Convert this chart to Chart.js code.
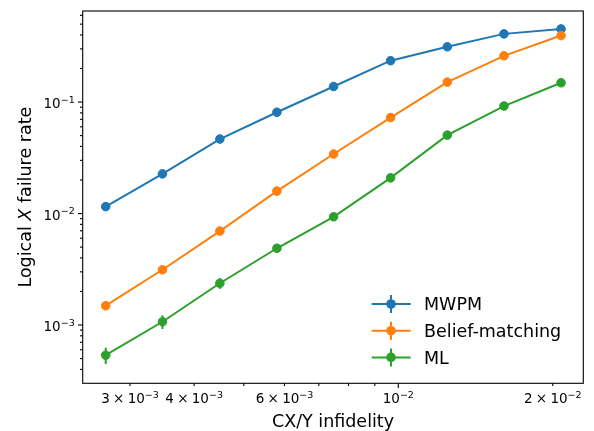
<!DOCTYPE html>
<html>
<head>
<meta charset="utf-8">
<script src="https://cdn.jsdelivr.net/npm/chart.js@4.4.0/dist/chart.umd.min.js"></script>
<style>
  html, body { margin: 0; padding: 0; background: #fff; }
  #wrap { width: 594px; height: 431px; }
</style>
</head>
<body>
<div id="wrap"><canvas id="chart" width="594" height="431"></canvas></div>
<script>
// CX/Y infidelity (x) and logical X failure rates per decoder
const infidelity = [0.00269, 0.00347, 0.00449, 0.0058, 0.00748, 0.00966, 0.01246, 0.01607, 0.02076];
const mwpmRate = [0.01154, 0.0227, 0.0466, 0.081, 0.138, 0.235, 0.313, 0.409, 0.453];
const mwpmErr = [0.0003, 0.0005, 0.0007, 0.001, 0.0014, 0.0019, 0.0021, 0.0022, 0.0022];
const bmRate = [0.00149, 0.00313, 0.00696, 0.0159, 0.0342, 0.0726, 0.151, 0.26, 0.395];
const bmErr = [0.00012, 0.00018, 0.00026, 0.0004, 0.0006, 0.0008, 0.0011, 0.0014, 0.0015];
const mlRate = [0.000536, 0.00107, 0.00237, 0.00488, 0.00935, 0.0209, 0.0505, 0.0921, 0.149];
const mlErr = [0.00009, 0.00015, 0.00026, 0.0003, 0.0004, 0.0006, 0.0009, 0.0013, 0.0016];

const seriesNames = ['MWPM', 'Belief-matching', 'ML'];
const seriesColors = ['#1f77b4', '#ff7f0e', '#2ca02c'];

// tick labels: value, mantissa, exponent
const xTickValues = [0.003, 0.004, 0.006, 0.01, 0.02];
const xTickMantissa = ['3', '4', '6', '', '2'];
const xTickExp = ['−3', '−3', '−3', '−2', '−2'];
const yTickValues = [0.001, 0.01, 0.1];
const yTickExp = ['−3', '−2', '−1'];

const xRange = [0.002426, 0.02294];
const yRange = [0.000317, 0.656];

const FONT = "'DejaVu Sans', sans-serif";
const TICK_PX = 13.5;
const SUP_PX = 9.5;
const LABEL_PX = 17.5;

function toPoints(xs, ys, errs) {
    return xs.map((x, i) => ({ x: x, y: ys[i], err: errs[i] }));
}

function minorValues(min, max) {
    const out = [];
    for (let e = Math.floor(Math.log10(min)); e <= Math.ceil(Math.log10(max)); e++) {
        for (let m = 1; m <= 9; m++) {
            const v = m * Math.pow(10, e);
            if (v >= min && v <= max) out.push({ v: v, major: m === 1 });
        }
    }
    return out;
}

// draws "m × 10^e" with a real superscript, anchored by the given alignment
function drawPow(ctx, mant, exp, x, baseline, align) {
    const gap = 3.3;
    ctx.font = TICK_PX + 'px ' + FONT;
    const wMant = mant ? ctx.measureText(mant).width + gap + ctx.measureText('×').width + gap : 0;
    const wTen = ctx.measureText('10').width;
    ctx.font = SUP_PX + 'px ' + FONT;
    const wExp = ctx.measureText(exp).width;
    const total = wMant + wTen + wExp;
    let left = x;
    if (align === 'center') left = x - total / 2;
    if (align === 'right') left = x - total;
    ctx.textAlign = 'left';
    ctx.textBaseline = 'alphabetic';
    ctx.font = TICK_PX + 'px ' + FONT;
    let cx = left;
    if (mant) {
        ctx.fillText(mant, cx, baseline);
        cx += ctx.measureText(mant).width + gap;
        ctx.fillText('×', cx, baseline);
        cx += ctx.measureText('×').width + gap;
    }
    ctx.fillText('10', cx, baseline);
    cx += wTen;
    ctx.font = SUP_PX + 'px ' + FONT;
    ctx.fillText(exp, cx, baseline - 5.3);
}

const axesPlugin = {
    id: 'mplAxes',
    beforeDatasetDraw(chart, args) {
        // vertical error bars, under the markers
        const ctx = chart.ctx;
        const meta = chart.getDatasetMeta(args.index);
        const ds = chart.data.datasets[args.index];
        const xs = chart.scales.x, ys = chart.scales.y;
        ctx.save();
        ctx.strokeStyle = ds.borderColor;
        ctx.lineWidth = 2;
        ds.data.forEach((p, i) => {
            if (!meta.data[i]) return;
            const px = xs.getPixelForValue(p.x);
            ctx.beginPath();
            ctx.moveTo(px, ys.getPixelForValue(p.y - p.err));
            ctx.lineTo(px, ys.getPixelForValue(p.y + p.err));
            ctx.stroke();
        });
        ctx.restore();
    },
    afterDraw(chart) {
        const ctx = chart.ctx;
        const area = chart.chartArea;
        const xs = chart.scales.x, ys = chart.scales.y;
        ctx.save();
        ctx.strokeStyle = '#000';
        ctx.fillStyle = '#000';
        ctx.lineWidth = 1.1;

        // frame
        ctx.strokeRect(area.left, area.top, area.right - area.left, area.bottom - area.top);

        // ticks, outward
        minorValues(xRange[0], xRange[1]).forEach(t => {
            const px = xs.getPixelForValue(t.v);
            ctx.beginPath();
            ctx.moveTo(px, area.bottom);
            ctx.lineTo(px, area.bottom + (t.major ? 4.7 : 2.7));
            ctx.stroke();
        });
        minorValues(yRange[0], yRange[1]).forEach(t => {
            const py = ys.getPixelForValue(t.v);
            ctx.beginPath();
            ctx.moveTo(area.left, py);
            ctx.lineTo(area.left - (t.major ? 4.7 : 2.7), py);
            ctx.stroke();
        });

        // tick labels
        xTickValues.forEach((v, i) => {
            drawPow(ctx, xTickMantissa[i], xTickExp[i], xs.getPixelForValue(v), area.bottom + 20, 'center');
        });
        yTickValues.forEach((v, i) => {
            drawPow(ctx, '', yTickExp[i], area.left - 8, ys.getPixelForValue(v) + 6, 'right');
        });

        // x title
        ctx.font = LABEL_PX + 'px ' + FONT;
        ctx.textAlign = 'center';
        ctx.textBaseline = 'alphabetic';
        ctx.fillText('CX/Y infidelity', (area.left + area.right) / 2, 427);

        // y title with italic X
        const parts = [['Logical ', 'normal'], ['X', 'italic'], [' failure rate', 'normal']];
        let total = 0;
        parts.forEach(p => {
            ctx.font = p[1] + ' ' + LABEL_PX + 'px ' + FONT;
            total += ctx.measureText(p[0]).width;
        });
        ctx.translate(31, (area.top + area.bottom) / 2);
        ctx.rotate(-Math.PI / 2);
        ctx.textAlign = 'left';
        let cx = -total / 2;
        parts.forEach(p => {
            ctx.font = p[1] + ' ' + LABEL_PX + 'px ' + FONT;
            ctx.fillText(p[0], cx, 0);
            cx += ctx.measureText(p[0]).width;
        });
        ctx.restore();

        // legend, lower right, no frame
        ctx.save();
        chart.data.datasets.forEach((ds, i) => {
            const rowY = 304 + i * 26.7;
            const mx = 391;
            ctx.strokeStyle = ds.borderColor;
            ctx.fillStyle = ds.borderColor;
            ctx.lineWidth = 2;
            ctx.beginPath();
            ctx.moveTo(371.7, rowY);
            ctx.lineTo(410.7, rowY);
            ctx.moveTo(mx, rowY - 9);
            ctx.lineTo(mx, rowY + 9);
            ctx.stroke();
            ctx.beginPath();
            ctx.arc(mx, rowY, 4.8, 0, Math.PI * 2);
            ctx.fill();
            ctx.fillStyle = '#000';
            ctx.font = LABEL_PX + 'px ' + FONT;
            ctx.textAlign = 'left';
            ctx.textBaseline = 'alphabetic';
            ctx.fillText(ds.label, 424, rowY + 6.3);
        });
        ctx.restore();
    }
};

const rates = [mwpmRate, bmRate, mlRate];
const errs = [mwpmErr, bmErr, mlErr];

new Chart(document.getElementById('chart'), {
    type: 'scatter',
    data: {
        datasets: seriesNames.map((name, i) => ({
            label: name,
            data: toPoints(infidelity, rates[i], errs[i]),
            showLine: true,
            borderColor: seriesColors[i],
            backgroundColor: seriesColors[i],
            borderWidth: 2,
            pointRadius: 4.3,
            pointBorderWidth: 1,
            pointHoverRadius: 4.3,
            order: 3 - i
        }))
    },
    options: {
        responsive: false,
        animation: false,
        events: [],
        layout: { padding: { left: 82.7, top: 11, right: 10.7, bottom: 47.7 } },
        plugins: {
            legend: { display: false },
            tooltip: { enabled: false }
        },
        scales: {
            x: { type: 'logarithmic', min: xRange[0], max: xRange[1], display: false },
            y: { type: 'logarithmic', min: yRange[0], max: yRange[1], display: false }
        }
    },
    plugins: [axesPlugin]
});
</script>
</body>
</html>
